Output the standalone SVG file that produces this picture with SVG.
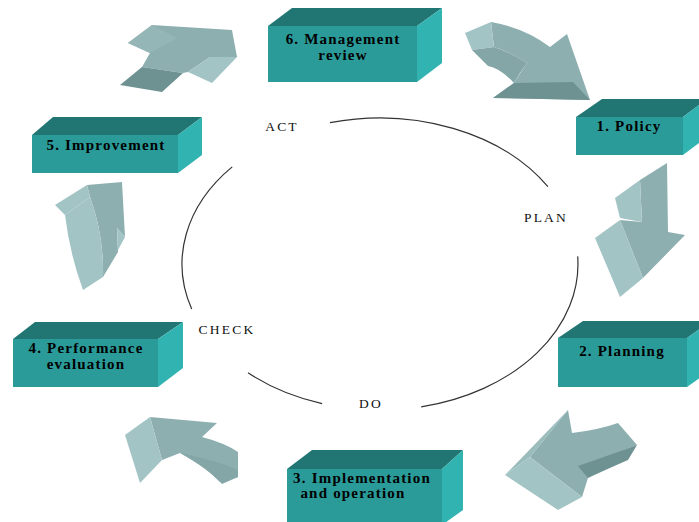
<svg xmlns="http://www.w3.org/2000/svg" width="699" height="522" viewBox="0 0 699 522">
<style>
.front{fill:#2b9b99}
.top{fill:#217673}
.side{fill:#31b3b1}
.bt{font-family:"Liberation Serif","Times New Roman",serif;font-weight:bold;font-size:15px;letter-spacing:1.2px;fill:#000;text-anchor:middle}
.lbl{font-family:"Liberation Serif","Times New Roman",serif;font-size:13.5px;letter-spacing:2.2px;fill:#111;text-anchor:middle}
.am{fill:#8eafb0}
.al{fill:#a3c4c5}
.ad{fill:#6e9192}
.amd{fill:#84a6a7}
.cyc{fill:none;stroke:#333;stroke-width:1.2}
</style>
<rect width="699" height="522" fill="#fff"/>
<g id="connectors">
<path class="cyc" d="M330,122.7 A198,146 0 0 1 547.9,186.6"/>
<path class="cyc" d="M577.7,256.4 A198,146 0 0 1 421.2,406.8"/>
<path class="cyc" d="M322.1,403.6 A198,146 0 0 1 248,372.8"/>
<path class="cyc" d="M191.7,309.1 A198,146 0 0 1 232.2,166.9"/>
<text class="lbl" x="282" y="131">ACT</text>
<text class="lbl" x="546" y="222">PLAN</text>
<text class="lbl" x="227" y="334">CHECK</text>
<text class="lbl" x="371" y="408">DO</text>
</g>
<g id="arrow-5-6">
<polygon class="am" points="128,43 152,25 232,30 237,57 210,57 188,72 183,73 142,67 150,53"/>
<polygon fill="#95b6b7" points="128,43 152,25 177,38 150,53"/>
<polygon class="ad" points="120,85 142,67 183,73 162,92"/>
<polygon class="al" points="188,72 210,57 237,57 212,83"/>
</g>
<g id="arrow-6-1">
<path class="am" d="M491,22 Q525,28 550,47 L567,34 L590,100 L493,98 L514,83 Q522,70 527,63 Q510,52 494,47 Z"/>
<polygon class="al" points="465,33 491,22 494,47 472,50"/>
<path class="amd" d="M472,50 L494,47 Q512,53 527,63 Q520,72 514,83 Q500,68 488,66 Z"/>
<polygon class="ad" points="493,98 514,83 573,82 590,100"/>
</g>
<g id="arrow-1-2">
<polygon class="am" points="640,180 667,163 668,232 685,235 643,278 620,220 642,222"/>
<polygon class="al" points="615,198 640,180 642,222 620,218"/>
<polygon class="al" points="595,238 620,220 643,278 620,297"/>
</g>
<g id="arrow-2-3">
<path class="am" d="M568,410 L572,433 Q598,430 618,423 L637,445 Q610,455 592,465 L582,497 L530,457 Z"/>
<polygon fill="#9abcbd" points="505,475 568,410 530,457"/>
<polygon class="al" points="505,475 530,457 582,497 558,510"/>
<path class="ad" d="M578,466 Q610,455 637,445 L628,460 Q605,470 588,478 Z"/>
</g>
<g id="arrow-3-4">
<path class="am" d="M150,417 L217,423 L202,437 Q225,443 238,452 L238,477 L220,482 Q200,462 180,453 L162,460 Z"/>
<polygon class="al" points="125,435 150,417 162,460 140,483"/>
<path class="amd" d="M180,453 Q215,460 238,470 L238,477 L222,484 Q210,470 180,453 Z"/>
</g>
<g id="arrow-4-5">
<path class="am" d="M87,185 L122,182 L125,237 L117,228 L118,252 L103,277 Q104,235 90,197 Z"/>
<path class="al" d="M65,215 L90,197 Q104,235 103,277 L83,290 Q70,255 65,215 Z"/>
<polygon class="al" points="55,205 87,185 90,197 65,215"/>
<polygon class="al" points="117,228 125,237 118,250"/>
</g>
<g id="box-6">
<polygon class="top" points="268,26 292,8 442,8 417,26"/>
<polygon class="side" points="417,26 442,8 442,63 417,82"/>
<rect class="front" x="268" y="26" width="149" height="56"/>
<text class="bt" x="343" y="44">6. Management</text>
<text class="bt" x="343" y="60">review</text>
</g>
<g id="box-1">
<polygon class="top" points="576,117 602,99 707,99 683,117"/>
<polygon class="side" points="683,117 707,99 707,137 683,155"/>
<rect class="front" x="576" y="117" width="107" height="38"/>
<text class="bt" x="629" y="131">1. Policy</text>
</g>
<g id="box-2">
<polygon class="top" points="558,338 583,321 711,321 687,338"/>
<polygon class="side" points="687,338 711,321 711,370 687,387"/>
<rect class="front" x="558" y="338" width="129" height="49"/>
<text class="bt" x="622" y="356">2. Planning</text>
</g>
<g id="box-3">
<polygon class="top" points="287,469 312,450 463,450 442,469"/>
<polygon class="side" points="442,469 463,450 463,510 442,525"/>
<rect class="front" x="287" y="469" width="155" height="56"/>
<text class="bt" x="362" y="483">3. Implementation</text>
<text class="bt" x="353" y="498">and operation</text>
</g>
<g id="box-4">
<polygon class="top" points="13,339 35,322 183,322 158,339"/>
<polygon class="side" points="158,339 183,322 183,368 158,387"/>
<rect class="front" x="13" y="339" width="145" height="48"/>
<text class="bt" x="86" y="353">4. Performance</text>
<text class="bt" x="86" y="369">evaluation</text>
</g>
<g id="box-5">
<polygon class="top" points="32,135 53,117 202,117 178,135"/>
<polygon class="side" points="178,135 202,117 202,155 178,173"/>
<rect class="front" x="32" y="135" width="146" height="38"/>
<text class="bt" x="106" y="150">5. Improvement</text>
</g>
</svg>
